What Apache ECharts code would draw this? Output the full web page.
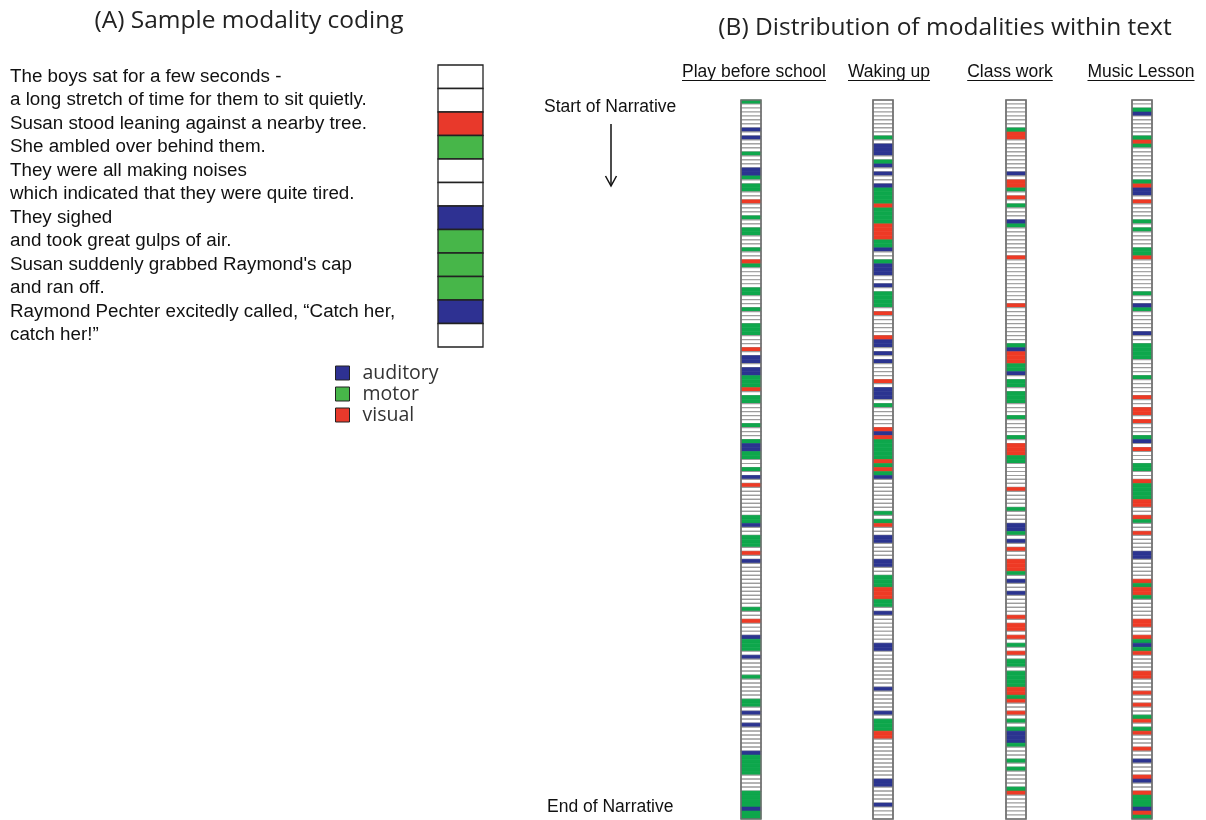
<!doctype html>
<html lang="en">
<head>
<meta charset="UTF-8">
<title>Modality coding</title>
<script src="https://cdn.jsdelivr.net/npm/echarts@6/dist/echarts.min.js"></script>
<style>
  html, body { margin: 0; padding: 0; background: #fff; }
  #chart { width: 1206px; height: 820px; }
</style>
</head>
<body>
<div id="chart"></div>
<script>
// ---- data ----
var MODES = ['auditory', 'motor', 'visual'];
var FILL = ['#ffffff', '#2b3490', '#0ea74c', '#ee3a25'];
var SAMPLE_FILL = ['#ffffff', '#2e3192', '#47b649', '#e8392b'];

// panel A: sentences and their coded modality ('' = none)
var SAMPLE_LINES = [
    'The boys sat for a few seconds -',
    'a long stretch of time for them to sit quietly.',
    'Susan stood leaning against a nearby tree.',
    'She ambled over behind them.',
    'They were all making noises',
    'which indicated that they were quite tired.',
    'They sighed',
    'and took great gulps of air.',
    'Susan suddenly grabbed Raymond\'s cap',
    'and ran off.',
    'Raymond Pechter excitedly called, \u201cCatch her,',
    'catch her!\u201d'
];
var SAMPLE_CODES = ['', '', 'visual', 'motor', '', '', 'auditory', 'motor', 'motor', 'motor', 'auditory', ''];

// panel B: narratives, each coded runs [first row, number of rows, modality]
var NARRATIVES = ['Play before school', 'Waking up', 'Class work', 'Music Lesson'];
var ROWS = 180;

var PLAY_RUNS = [[0,1,'m'],[7,1,'a'],[9,1,'a'],[13,1,'m'],[17,2,'a'],[19,1,'m'],[21,2,'m'],[25,1,'v'],[29,1,'m'],
    [32,2,'m'],[37,1,'m'],[40,1,'v'],[41,1,'m'],[47,2,'m'],[52,1,'m'],[56,3,'m'],[62,1,'v'],[64,2,'a'],[67,2,'a'],
    [69,3,'m'],[72,1,'v'],[74,2,'m'],[81,1,'m'],[85,1,'m'],[86,2,'a'],[88,2,'m'],[92,1,'m'],[94,1,'a'],[96,1,'v'],
    [104,2,'m'],[106,1,'a'],[109,3,'m'],[113,1,'v'],[115,1,'a'],[127,1,'m'],[130,1,'v'],[134,1,'a'],[135,3,'m'],
    [139,1,'a'],[144,1,'m'],[150,2,'m'],[153,1,'a'],[156,1,'a'],[163,1,'a'],[164,5,'m'],[173,4,'m'],[177,1,'a'],[178,2,'m']];

var WAKING_RUNS = [[9,1,'m'],[11,3,'a'],[15,1,'m'],[16,1,'a'],[18,1,'a'],[21,1,'a'],[22,4,'m'],[26,1,'v'],[27,4,'m'],
    [31,4,'v'],[35,2,'m'],[37,1,'a'],[40,1,'m'],[41,3,'a'],[46,1,'a'],[48,4,'m'],[53,1,'v'],[59,1,'v'],[60,2,'a'],
    [63,1,'a'],[65,1,'a'],[70,1,'v'],[72,3,'a'],[76,1,'m'],[82,1,'v'],[83,1,'a'],[84,1,'v'],[85,5,'m'],[90,1,'v'],
    [91,1,'m'],[92,1,'v'],[93,1,'m'],[94,1,'a'],[103,1,'m'],[105,1,'m'],[106,1,'v'],[109,2,'a'],[115,2,'a'],
    [119,3,'m'],[122,3,'v'],[125,2,'m'],[128,1,'a'],[136,2,'a'],[147,1,'a'],[153,1,'a'],[155,3,'m'],[158,2,'v'],
    [170,2,'a'],[176,1,'a']];

var CLASS_RUNS = [[7,1,'m'],[8,2,'v'],[18,1,'a'],[20,2,'v'],[22,1,'m'],[24,1,'v'],[26,1,'m'],[30,1,'a'],[31,1,'m'],
    [39,1,'v'],[51,1,'v'],[61,1,'m'],[62,1,'a'],[63,3,'v'],[66,2,'m'],[68,1,'a'],[70,2,'m'],[73,3,'m'],[79,1,'m'],
    [84,1,'m'],[86,3,'v'],[89,2,'m'],[97,1,'v'],[102,1,'m'],[106,2,'a'],[108,1,'m'],[110,1,'a'],[112,1,'v'],
    [115,3,'v'],[118,1,'m'],[120,1,'a'],[123,1,'a'],[129,1,'v'],[131,2,'v'],[134,1,'v'],[136,1,'m'],[138,1,'v'],
    [140,2,'m'],[143,4,'m'],[147,2,'v'],[149,1,'m'],[150,1,'v'],[153,1,'v'],[155,1,'m'],[157,1,'m'],[158,3,'a'],
    [161,1,'m'],[165,1,'m'],[167,1,'m'],[172,1,'m'],[173,1,'v']];

var MUSIC_RUNS = [[2,1,'m'],[3,1,'a'],[9,1,'m'],[10,1,'v'],[11,1,'m'],[20,1,'m'],[21,1,'v'],[22,2,'a'],[25,1,'v'],
    [30,1,'m'],[32,1,'m'],[37,2,'m'],[39,1,'v'],[48,1,'m'],[51,1,'a'],[52,1,'m'],[58,1,'a'],[61,4,'m'],[69,1,'m'],
    [74,1,'v'],[77,2,'v'],[80,1,'v'],[84,1,'m'],[85,1,'a'],[87,1,'v'],[91,2,'m'],[95,1,'v'],[96,4,'m'],[100,2,'v'],
    [104,1,'v'],[105,1,'m'],[108,1,'v'],[113,2,'a'],[120,1,'v'],[121,1,'m'],[122,2,'v'],[124,1,'m'],[130,2,'v'],
    [134,1,'v'],[135,1,'m'],[136,1,'a'],[137,1,'m'],[138,1,'v'],[143,2,'v'],[148,1,'v'],[151,1,'v'],[154,1,'m'],
    [155,1,'v'],[157,1,'m'],[158,1,'v'],[162,1,'v'],[165,1,'a'],[169,1,'v'],[170,1,'a'],[173,1,'v'],[174,3,'m'],
    [177,1,'a'],[178,1,'v'],[179,1,'m']];

var NARRATIVE_RUNS = [PLAY_RUNS, WAKING_RUNS, CLASS_RUNS, MUSIC_RUNS];

// ---- layout ----
var STRIP_LEFT = [741, 873, 1006, 1132];
var STRIP_LABEL_X = [754, 889, 1010, 1141];
var STRIP_W = 20;
var STRIP_TOP = 100;
var STRIP_H = 719;
var LABEL_FONT = '17.5px "Liberation Sans", Arial, sans-serif';
var TITLE_STYLE = { fontSize: 24.5, fontWeight: 'normal', color: '#222', fontFamily: 'Open Sans' };

var CODE_KEY = { a: 1, m: 2, v: 3 };

function expandRuns(runs) {
    var codes = [];
    for (var i = 0; i < ROWS; i++) codes.push(0);
    runs.forEach(function (r) {
        for (var k = 0; k < r[1]; k++) codes[r[0] + k] = CODE_KEY[r[2]];
    });
    return codes.map(function (c, i) { return [0, i, c]; });
}

// white cells get a grey rule, coded cells are solid
function stripCell(params, api) {
    var p = api.coord([api.value(0), api.value(1)]);
    var s = api.size([1, 1]);
    var c = api.value(2);
    return {
        type: 'rect',
        shape: { x: p[0] - s[0] / 2, y: p[1] - s[1] / 2, width: s[0], height: s[1] },
        style: { fill: FILL[c], stroke: c ? FILL[c] : '#9c9c9c', lineWidth: c ? 0.6 : 1.2 }
    };
}

function sampleCell(params, api) {
    var p = api.coord([api.value(0), api.value(1)]);
    var s = api.size([1, 1]);
    return {
        type: 'rect',
        shape: { x: p[0] - s[0] / 2, y: p[1] - s[1] / 2, width: s[0], height: s[1] },
        style: { fill: SAMPLE_FILL[api.value(2)], stroke: '#222', lineWidth: 1.3 }
    };
}

var measureCtx = document.createElement('canvas').getContext('2d');
function textWidth(txt, font) {
    measureCtx.font = font;
    return measureCtx.measureText(txt).width;
}

var rowIdx = [];
for (var i = 0; i < ROWS; i++) rowIdx.push(i);

var grids = [], xAxes = [], yAxes = [], series = [], graphics = [];

// panel A column
grids.push({ left: 438, top: 65, width: 45, height: 282 });
xAxes.push({ type: 'category', data: ['code'], gridIndex: 0, show: false });
yAxes.push({
    type: 'category', data: SAMPLE_LINES, gridIndex: 0, inverse: true,
    axisLine: { show: false }, axisTick: { show: false }, splitLine: { show: false },
    axisLabel: { interval: 0, align: 'left', margin: 428, fontSize: 18.8, color: '#111', fontFamily: 'Liberation Sans' }
});
series.push({
    type: 'custom', xAxisIndex: 0, yAxisIndex: 0,
    renderItem: sampleCell,
    data: SAMPLE_CODES.map(function (c, i) { return [0, i, MODES.indexOf(c) + 1]; })
});

// panel B strips
NARRATIVES.forEach(function (name, k) {
    var gi = k + 1;
    grids.push({
        left: STRIP_LEFT[k], top: STRIP_TOP, width: STRIP_W, height: STRIP_H,
        show: true, borderColor: '#6f6f6f', borderWidth: 1.6, backgroundColor: 'transparent', z: 5
    });
    xAxes.push({ type: 'category', data: [name], gridIndex: gi, show: false });
    yAxes.push({ type: 'category', data: rowIdx, gridIndex: gi, inverse: true, show: false });
    series.push({
        type: 'custom', xAxisIndex: gi, yAxisIndex: gi, z: 1,
        renderItem: stripCell,
        data: expandRuns(NARRATIVE_RUNS[k])
    });
    var w = textWidth(name, LABEL_FONT);
    graphics.push({
        type: 'text', left: STRIP_LABEL_X[k] - w / 2, top: 63,
        style: { text: name, font: LABEL_FONT, fill: '#111' }
    });
    graphics.push({
        type: 'line', shape: { x1: STRIP_LABEL_X[k] - w / 2, y1: 80.5, x2: STRIP_LABEL_X[k] + w / 2, y2: 80.5 },
        style: { stroke: '#111', lineWidth: 1 }
    });
});

// legend entries
MODES.forEach(function (m, i) {
    series.push({ type: 'bar', name: m, xAxisIndex: 0, yAxisIndex: 0, data: [], itemStyle: { color: SAMPLE_FILL[i + 1] } });
});

graphics.push(
    { type: 'text', left: 544, top: 98, style: { text: 'Start of Narrative', font: LABEL_FONT, fill: '#111' } },
    { type: 'text', left: 547, top: 798, style: { text: 'End of Narrative', font: LABEL_FONT, fill: '#111' } },
    { type: 'line', shape: { x1: 611, y1: 124, x2: 611, y2: 185 }, style: { stroke: '#111', lineWidth: 1.5 } },
    { type: 'polyline', shape: { points: [[605.5, 176], [611, 186], [616.5, 176]] }, style: { stroke: '#111', lineWidth: 1.5, fill: null } }
);

var chart = echarts.init(document.getElementById('chart'));
chart.setOption({
    animation: false,
    backgroundColor: '#fff',
    title: [
        { text: '(A) Sample modality coding', left: 244, top: 4, textAlign: 'center', textStyle: TITLE_STYLE },
        { text: '(B) Distribution of modalities within text', left: 940, top: 11, textAlign: 'center', textStyle: TITLE_STYLE }
    ],
    legend: {
        data: MODES, orient: 'vertical', left: 335, top: 362.5, padding: 0, selectedMode: false,
        icon: 'rect', itemWidth: 14, itemHeight: 14, itemGap: 0,
        itemStyle: { borderColor: '#222', borderWidth: 1 },
        textStyle: { fontSize: 19.5, lineHeight: 21, color: '#333', fontFamily: 'Open Sans', padding: [0, 0, 0, 8] }
    },
    grid: grids,
    xAxis: xAxes,
    yAxis: yAxes,
    series: series,
    graphic: graphics
});
</script>
</body>
</html>
